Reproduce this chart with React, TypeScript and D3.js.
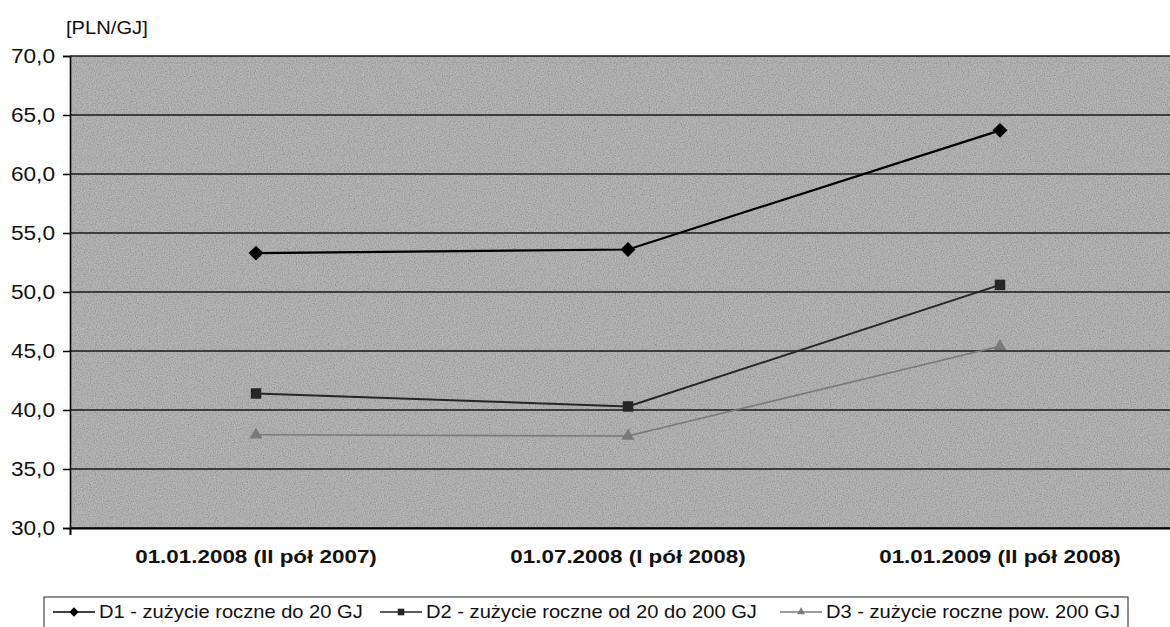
import { useEffect, useRef } from "react";
import * as d3 from "d3";

// ---- data ----
const categories = [
  "01.01.2008 (II pół 2007)",
  "01.07.2008 (I pół 2008)",
  "01.01.2009 (II pół 2008)",
];
const d1Values = [53.3, 53.6, 63.7];
const d2Values = [41.4, 40.3, 50.6];
const d3Values = [37.9, 37.8, 45.4];
const seriesNames = [
  "D1 - zużycie roczne do 20 GJ",
  "D2 - zużycie roczne od 20 do 200 GJ",
  "D3 - zużycie roczne pow. 200 GJ",
];
const yTicks = [30, 35, 40, 45, 50, 55, 60, 65, 70];
const unitLabel = "[PLN/GJ]";

const W = 1170;
const H = 627;
const plot = { left: 70, top: 56, right: 1186, bottom: 528 };
const FONT = "'Liberation Sans', Arial, sans-serif";

export default function App() {
  const ref = useRef<SVGSVGElement>(null);

  useEffect(() => {
    const svg = d3.select(ref.current);
    svg.selectAll("*").remove();

    const x = d3.scaleBand().domain(categories).range([plot.left, plot.right]);
    const y = d3.scaleLinear().domain([30, 70]).range([plot.bottom, plot.top]);

    // ####### texture for the plot area #######
    const defs = svg.append("defs");
    const f = defs.append("filter").attr("id", "grain").attr("x", 0).attr("y", 0).attr("width", 1).attr("height", 1);
    f.append("feTurbulence").attr("type", "fractalNoise").attr("baseFrequency", 0.85).attr("numOctaves", 2).attr("seed", 3);
    f.append("feColorMatrix").attr("type", "matrix")
      .attr("values", "1.2 0 0 0 -0.1  1.2 0 0 0 -0.1  1.2 0 0 0 -0.1  0 0 0 0 0.3");
    f.append("feComposite").attr("in2", "SourceGraphic").attr("operator", "in");

    svg.append("rect").attr("width", W).attr("height", H).attr("fill", "#fff");

    svg.append("rect")
      .attr("x", plot.left).attr("y", plot.top)
      .attr("width", plot.right - plot.left).attr("height", plot.bottom - plot.top)
      .attr("fill", "#a6a6a6");
    svg.append("rect")
      .attr("x", plot.left).attr("y", plot.top)
      .attr("width", plot.right - plot.left).attr("height", plot.bottom - plot.top)
      .attr("fill", "#a6a6a6").attr("filter", "url(#grain)");

    // ####### gridlines #######
    svg.append("g")
      .selectAll("line")
      .data(yTicks)
      .join("line")
      .attr("x1", plot.left).attr("x2", plot.right)
      .attr("y1", (d) => y(d)).attr("y2", (d) => y(d))
      .attr("stroke", "#1a1a1a").attr("stroke-width", 1.6);

    // the scan is a bit wider than tall: widen glyphs around their anchor
    const stretch = (k: number) => (sel: any) => {
      sel.each(function (this: SVGTextElement) {
        const t = d3.select(this);
        const tx = +(t.attr("x") || 0);
        const ty = +(t.attr("y") || 0);
        t.attr("transform", `translate(${tx},${ty}) scale(${k},1) translate(${-tx},${-ty})`);
      });
    };

    // ####### y axis #######
    const yAxis = svg.append("g")
      .attr("transform", `translate(${plot.left},0)`)
      .call(d3.axisLeft(y).tickValues(yTicks).tickSize(7).tickPadding(8)
        .tickFormat((d) => d3.format(".1f")(d as number).replace(".", ",")));
    yAxis.select(".domain").attr("stroke", "#000").attr("stroke-width", 1.6);
    yAxis.selectAll(".tick line").attr("stroke", "#000").attr("stroke-width", 1.5);
    yAxis.selectAll(".tick text").attr("font-family", FONT).attr("font-size", 21).attr("fill", "#111")
      .call(stretch(1.08));

    // ####### x axis #######
    const xAxis = svg.append("g")
      .attr("transform", `translate(0,${plot.bottom})`)
      .call(d3.axisBottom(x).tickSize(7).tickPadding(15));
    xAxis.select(".domain").attr("stroke", "#000").attr("stroke-width", 2);
    xAxis.selectAll(".tick line").remove();
    xAxis.selectAll(".tick text")
      .attr("font-family", FONT).attr("font-size", 19).attr("font-weight", "bold").attr("fill", "#111")
      .call(stretch(1.18));

    // unit label
    svg.append("text")
      .attr("x", 66).attr("y", 34)
      .attr("font-family", FONT).attr("font-size", 18).attr("fill", "#111")
      .text(unitLabel)
      .call(stretch(1.12));

    // ####### series #######
    const allSeries = [d1Values, d2Values, d3Values];
    const colors = ["#000000", "#262626", "#7a7a7a"];
    const widths = [2.2, 2, 1.6];
    const symbols = [d3.symbolSquare, d3.symbolSquare, d3.symbolTriangle];
    const rotations = [45, 0, 0];
    const symbolSizes = [110, 110, 70];

    const line = d3.line<number>()
      .x((_, i) => (x(categories[i]) as number) + x.bandwidth() / 2)
      .y((d) => y(d));

    allSeries.forEach((vals, si) => {
      svg.append("path")
        .datum(vals)
        .attr("d", line)
        .attr("fill", "none")
        .attr("stroke", colors[si])
        .attr("stroke-width", widths[si]);
      svg.append("g")
        .selectAll("path")
        .data(vals)
        .join("path")
        .attr("transform", (d, i) =>
          `translate(${(x(categories[i]) as number) + x.bandwidth() / 2},${y(d)}) rotate(${rotations[si]})`)
        .attr("d", d3.symbol().type(symbols[si]).size(symbolSizes[si]))
        .attr("fill", colors[si]);
    });

    // ####### legend #######
    const legend = svg.append("g");
    legend.append("rect")
      .attr("x", 44).attr("y", 597).attr("width", 1084).attr("height", 40)
      .attr("fill", "#fff").attr("stroke", "#444").attr("stroke-width", 1.2);
    const legendX = [53, 380, 780];
    seriesNames.forEach((name, si) => {
      const lx = legendX[si];
      const ly = 612;
      legend.append("line")
        .attr("x1", lx).attr("x2", lx + 42).attr("y1", ly).attr("y2", ly)
        .attr("stroke", colors[si]).attr("stroke-width", 1.5);
      legend.append("path")
        .attr("transform", `translate(${lx + 21},${ly}) rotate(${rotations[si]})`)
        .attr("d", d3.symbol().type(symbols[si]).size(symbolSizes[si] * 0.4))
        .attr("fill", colors[si]);
      legend.append("text")
        .attr("x", lx + 46).attr("y", ly + 6)
        .attr("font-family", FONT).attr("font-size", 17.5).attr("fill", "#111")
        .text(name)
        .call(stretch(1.15));
    });
  }, []);

  return (
    <svg
      ref={ref}
      width={W}
      height={H}
      style={{ position: "absolute", left: 0, top: 0, display: "block" }}
    />
  );
}
